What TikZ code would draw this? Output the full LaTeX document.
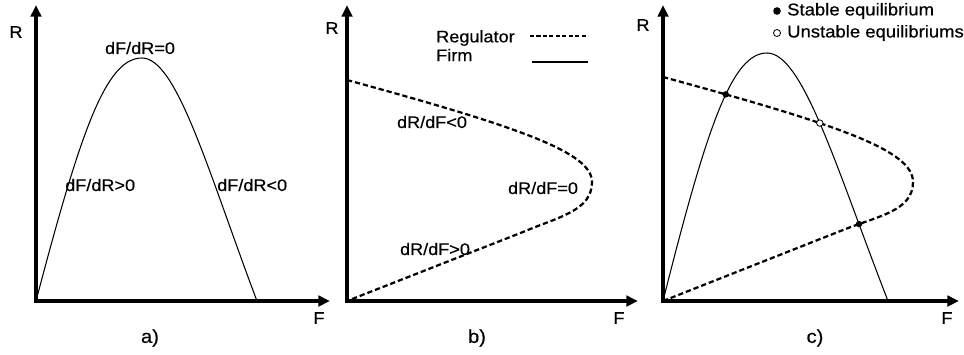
\documentclass[tikz,border=0pt]{standalone}
\usepackage{fontspec}
\setmainfont[FakeStretch=1.08, FakeBold=0.4]{Liberation Sans}
\usetikzlibrary{arrows.meta,intersections,positioning}

\begin{document}
\begin{tikzpicture}[
  x=0.03cm, y=0.03cm,
  axis/.style={line width=3.4pt, {Triangle[length=10pt,width=9pt]}-{Triangle[length=10pt,width=9pt]}},
  firm/.style={line width=0.9pt},
  regulator/.style={line width=1.9pt, dash pattern=on 4.5pt off 2.5pt},
  lbl/.style={font=\fontsize{14.3}{16}\selectfont, inner sep=0pt},
  keylbl/.style={font=\fontsize{14.6}{17}\selectfont, inner sep=0pt},
  panel/.style={font=\fontsize{16}{18}\selectfont, inner sep=0pt},
  stabledot/.style={circle, fill=black, inner sep=0pt, minimum size=5.5pt},
  unstabledot/.style={circle, draw=black, fill=white, line width=0.7pt, inner sep=0pt, minimum size=5.5pt}
]
  \useasboundingbox (0,0) rectangle (964,354);

  % Panel a: firm
  \begin{scope}[shift={(36,53)}]
    \coordinate (Oa) at (0,0);
    \coordinate (Ya) at (0,296);
    \coordinate (Xa) at (294,0);
    \draw[axis] (Ya) -- (Oa) -- (Xa);
    \draw[firm] (Oa) .. controls (45,171) and (70,243) .. (106,243)
      .. controls (141,243) and (173,127) .. (221,0);
    \node[lbl] (Ra) at (-20,269) {R};
    \node[lbl] (Fa) at (283,-17) {F};
    \node[panel] (pa) at (114,-37) {a)};
    \node[lbl] (topa) at (104,253) {dF/dR=0};
    \node[lbl, anchor=west] (upa) at (29,116) {dF/dR>0};
    \node[lbl, anchor=west] (downa) at (181,116) {dF/dR<0};
  \end{scope}

  % Panel b: regulator
  \begin{scope}[shift={(347,53)}]
    \coordinate (Ob) at (0,0);
    \coordinate (Yb) at (0,296);
    \coordinate (Xb) at (291,0);
    \draw[axis] (Yb) -- (Ob) -- (Xb);
    \draw[regulator] (0,221) .. controls (176,173) and (245,148) .. (245,119)
      .. controls (245,90) and (211,84) .. (176,69) -- (Ob);
    \node[lbl] (Rb) at (-15,273) {R};
    \node[lbl] (Fb) at (272,-17) {F};
    \node[panel] (pb) at (130,-37) {b)};
    \node[lbl] (downb) at (85,179) {dR/dF<0};
    \node[lbl] (tipb) at (196,113) {dR/dF=0};
    \node[lbl] (upb) at (88,52) {dR/dF>0};
    % legend
    \node[lbl, anchor=west] (regkey) at (89,263) {Regulator};
    \node[lbl, anchor=west] (firmkey) at (89,246) {Firm};
    \coordinate (rk1) at (183,265);
    \coordinate (rk2) at (241,265);
    \coordinate (fk1) at (185,239);
    \coordinate (fk2) at (241,239);
    \draw[line width=1.3pt, dash pattern=on 3.5pt off 2pt] (rk1) -- (rk2);
    \draw[line width=1.1pt] (fk1) -- (fk2);
  \end{scope}

  % Panel c: both curves
  \begin{scope}[shift={(663,53)}]
    \coordinate (Oc) at (0,0);
    \coordinate (Yc) at (0,296);
    \coordinate (Xc) at (296,0);
    \coordinate (Pc) at (104,248);
    \coordinate (Tc) at (250,119);
    \draw[axis] (Yc) -- (Oc) -- (Xc);
    \draw[firm, name path=firmL] (Oc) .. controls (44,175) and (69,248) .. (Pc);
    \draw[firm, name path=firmR] (Pc) .. controls (140,248) and (174,131) .. (225,0);
    \draw[regulator, name path=regU] (0,224) .. controls (180,175) and (250,150) .. (Tc);
    \draw[regulator, name path=regL] (Tc) .. controls (250,90) and (215,85) .. (180,71) -- (Oc);
    \path[name intersections={of=firmL and regU, name=ea}];
    \path[name intersections={of=firmR and regU, name=eb}];
    \path[name intersections={of=firmR and regL, name=ec}];
    \node[stabledot] (eqA) at (ea-1) {};
    \node[unstabledot] (eqB) at (eb-1) {};
    \node[stabledot] (eqC) at (ec-1) {};
    \node[lbl] (Rc) at (-20,276) {R};
    \node[lbl] (Fc) at (284,-17) {F};
    \node[panel] (pc) at (152,-37) {c)};
    % legend
    \node[stabledot, minimum size=6.5pt] (sdot) at (114,290) {};
    \node[keylbl, anchor=west] (skey) at (124,290) {Stable equilibrium};
    \node[unstabledot, minimum size=6pt] (udot) at (114,268) {};
    \node[keylbl, anchor=west] (ukey) at (124,268) {Unstable equilibriums};
  \end{scope}
\end{tikzpicture}
\end{document}
